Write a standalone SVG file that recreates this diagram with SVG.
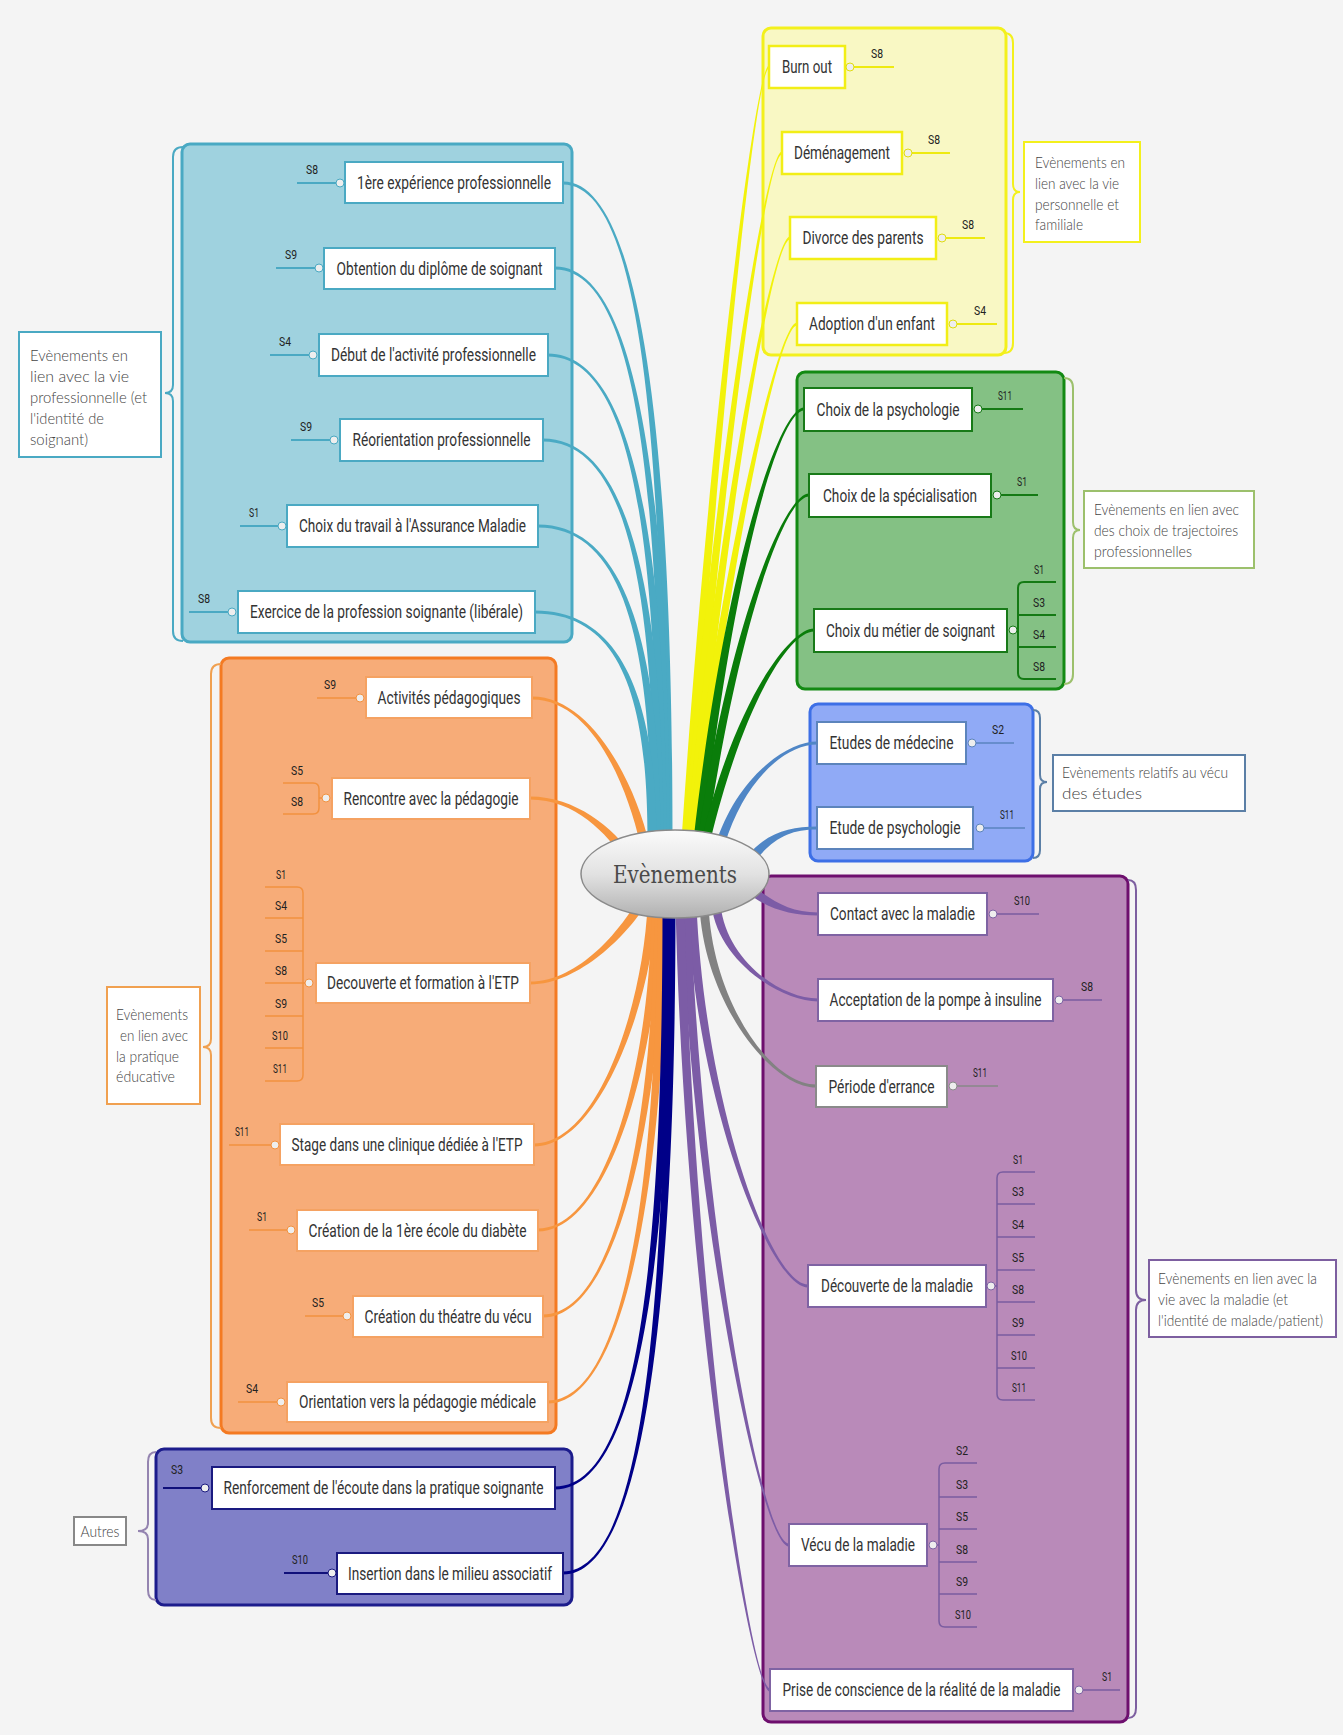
<svg xmlns="http://www.w3.org/2000/svg" width="1343" height="1735" viewBox="0 0 1343 1735">
<defs>
<linearGradient id="eg" x1="0" y1="0" x2="0" y2="1">
<stop offset="0" stop-color="#fbfbfb"/><stop offset="0.5" stop-color="#e2e2e2"/><stop offset="1" stop-color="#b0b0b0"/>
</linearGradient>
<style>
.nt{font-family:Roboto,"Liberation Sans",sans-serif;font-size:18px;fill:#333;text-anchor:middle}
.st{font-family:Roboto,"Liberation Sans",sans-serif;font-size:13px;fill:#222;text-anchor:middle}
.lt{font-family:Lato,"Open Sans","Liberation Sans",sans-serif;font-size:15px;font-weight:300;fill:#444}
.node{fill:#fff;stroke-width:2}
.nb{stroke:#4aa9c3}.ny{stroke:#f2ee16;stroke-width:2.5}.ng{stroke:#187a18}.ne{stroke:#5c84bc}.np{stroke:#7f63a3}.ngr{stroke:#8a8a8a}.no{stroke:#f5a262}.nn{stroke:#1a1a80}
.sl{fill:none;stroke-width:2}
.lb{stroke:#4aa9c3}.ly{stroke:#eeea10}.lg{stroke:#147a14}.le{stroke:#5a84c0;stroke-width:1.5}.lp{stroke:#7a5ca0;stroke-width:1.5}.lgr{stroke:#888;stroke-width:1.5}.lo{stroke:#f2913f;stroke-width:1.5}.ln{stroke:#10107a}
.dot{fill:#eeeeee;stroke-width:1}
.brace{fill:none;stroke-width:2}
.lbox{fill:#fff;stroke-width:2}
</style>
</defs>
<rect width="1343" height="1735" fill="#f4f4f4"/>

<g id="group-boxes">
<rect x="182" y="144" width="390" height="498" rx="8" fill="#9fd2df" stroke="#49a9c3" stroke-width="3"/>
<rect x="763" y="28" width="243" height="327" rx="8" fill="#f9f8c4" stroke="#f3f01c" stroke-width="3"/>
<rect x="797" y="372" width="267" height="317" rx="8" fill="#84c184" stroke="#138a13" stroke-width="3"/>
<rect x="810" y="704" width="223" height="157" rx="8" fill="#90aaf6" stroke="#3d6fe6" stroke-width="3"/>
<rect x="763" y="876" width="365" height="846" rx="8" fill="#b98ab9" stroke="#6e0f6e" stroke-width="3"/>
<rect x="221" y="658" width="335" height="775" rx="8" fill="#f7ac78" stroke="#f47a22" stroke-width="3"/>
<rect x="156" y="1449" width="416" height="156" rx="8" fill="#8080c8" stroke="#1c1c8c" stroke-width="3"/>
</g>

<g id="braces">
<path class="brace" stroke="#4aa9c3" d="M183,147 Q173,147 173,157 L173,385 Q173,393 165,393 Q173,393 173,401 L173,631 Q173,641 183,641"/>
<path class="brace" stroke="#f3f01c" stroke-width="2.5" d="M1004,33 Q1013,33 1013,43 L1013,184 Q1013,192 1020,192 Q1013,192 1013,200 L1013,343 Q1013,353 1004,353"/>
<path class="brace" stroke="#9cc06c" d="M1064,378 Q1073,378 1073,388 L1073,522 Q1073,530 1080,530 Q1073,530 1073,538 L1073,674 Q1073,684 1064,684"/>
<path class="brace" stroke="#5b7fa6" stroke-width="1.5" d="M1033,710 Q1040,710 1040,718 L1040,775 Q1040,782 1047,782 Q1040,782 1040,789 L1040,850 Q1040,858 1033,858"/>
<path class="brace" stroke="#7d5fa0" d="M1128,880 Q1136,880 1136,890 L1136,1290 Q1136,1300 1146,1300 Q1136,1300 1136,1310 L1136,1708 Q1136,1718 1128,1718"/>
<path class="brace" stroke="#f0a050" d="M221,664 Q211,664 211,674 L211,1039 Q211,1047 203,1047 Q211,1047 211,1055 L211,1418 Q211,1428 221,1428"/>
<path class="brace" stroke="#9484b0" d="M156,1452 Q148,1452 148,1462 L148,1523 Q148,1531 138,1531 Q148,1531 148,1539 L148,1590 Q148,1600 156,1600"/>
</g>

<g id="labels">
<g id="lab-pro">
<rect class="lbox" stroke="#4aa9c3" x="19" y="332" width="142" height="125"/>
<text class="lt" x="30" y="361" textLength="98" lengthAdjust="spacingAndGlyphs">Evènements en</text>
<text class="lt" x="30" y="382" textLength="99" lengthAdjust="spacingAndGlyphs">lien avec la vie</text>
<text class="lt" x="30" y="403" textLength="117" lengthAdjust="spacingAndGlyphs">professionnelle (et</text>
<text class="lt" x="30" y="424" textLength="74" lengthAdjust="spacingAndGlyphs">l'identité de</text>
<text class="lt" x="30" y="445" textLength="58" lengthAdjust="spacingAndGlyphs">soignant)</text>
</g>
<g id="lab-perso">
<rect class="lbox" stroke="#f3f01c" x="1024" y="142" width="116" height="100"/>
<text class="lt" x="1035" y="168" textLength="90" lengthAdjust="spacingAndGlyphs">Evènements en</text>
<text class="lt" x="1035" y="189" textLength="84" lengthAdjust="spacingAndGlyphs">lien avec la vie</text>
<text class="lt" x="1035" y="210" textLength="84" lengthAdjust="spacingAndGlyphs">personnelle et</text>
<text class="lt" x="1035" y="230" textLength="48" lengthAdjust="spacingAndGlyphs">familiale</text>
</g>
<g id="lab-traj">
<rect class="lbox" stroke="#9cc06c" x="1084" y="491" width="170" height="77"/>
<text class="lt" x="1094" y="515" textLength="145" lengthAdjust="spacingAndGlyphs">Evènements en lien avec</text>
<text class="lt" x="1094" y="536" textLength="144" lengthAdjust="spacingAndGlyphs">des choix de trajectoires</text>
<text class="lt" x="1094" y="557" textLength="98" lengthAdjust="spacingAndGlyphs">professionnelles</text>
</g>
<g id="lab-etudes">
<rect class="lbox" stroke="#5b7fa6" stroke-width="1.5" x="1053" y="755" width="192" height="56"/>
<text class="lt" x="1062" y="778" textLength="166" lengthAdjust="spacingAndGlyphs">Evènements relatifs au vécu</text>
<text class="lt" x="1062" y="799" textLength="80" lengthAdjust="spacingAndGlyphs">des études</text>
</g>
<g id="lab-maladie">
<rect class="lbox" stroke="#7d5fa0" x="1149" y="1260" width="187" height="77"/>
<text class="lt" x="1158" y="1284" textLength="159" lengthAdjust="spacingAndGlyphs">Evènements en lien avec la</text>
<text class="lt" x="1158" y="1305" textLength="130" lengthAdjust="spacingAndGlyphs">vie avec la maladie (et</text>
<text class="lt" x="1158" y="1326" textLength="165" lengthAdjust="spacingAndGlyphs">l'identité de malade/patient)</text>
</g>
<g id="lab-educ">
<rect class="lbox" stroke="#f0a050" x="107" y="987" width="93" height="117"/>
<text class="lt" x="116" y="1020" textLength="72" lengthAdjust="spacingAndGlyphs">Evènements</text>
<text class="lt" x="120" y="1041" textLength="68" lengthAdjust="spacingAndGlyphs">en lien avec</text>
<text class="lt" x="116" y="1062" textLength="63" lengthAdjust="spacingAndGlyphs">la pratique</text>
<text class="lt" x="116" y="1082" textLength="59" lengthAdjust="spacingAndGlyphs">éducative</text>
</g>
<g id="lab-autres">
<rect class="lbox" stroke="#888" stroke-width="1.5" x="74" y="1517" width="52" height="28"/>
<text class="lt" x="100" y="1537" font-size="16" text-anchor="middle" textLength="39" lengthAdjust="spacingAndGlyphs">Autres</text>
</g>
</g>

<g id="connectors">
<g fill="#4aaac4">
<path d="M563,181.5 C642,181.5 672.5,446 672.5,840 L663.5,840 C663.5,446 642,184.5 563,184.5 Z"/>
<path d="M555,266.5 C638,266.5 669.5,497 669.5,840 L660.5,840 C660.5,497 638,269.5 555,269.5 Z"/>
<path d="M548,353.5 C634,353.5 666.5,549 666.5,840 L657.5,840 C657.5,549 634,356.5 548,356.5 Z"/>
<path d="M543,438.5 C630,438.5 663.5,600 663.5,840 L654.5,840 C654.5,600 630,441.5 543,441.5 Z"/>
<path d="M538,524.5 C627,524.5 660.5,652 660.5,840 L651.5,840 C651.5,652 627,527.5 538,527.5 Z"/>
<path d="M535,610.5 C623,610.5 656.5,703 656.5,840 L647.5,840 C647.5,703 623,613.5 535,613.5 Z"/>
</g>
<g fill="#f2f20a">
<path d="M769,65.5 C755,65.5 707.5,450 681.5,840 L690.5,840 C716.5,450 755,68.5 769,68.5 Z"/>
<path d="M782,151.5 C765,151.5 713.5,480 683.5,840 L692.5,840 C722.5,480 765,154.5 782,154.5 Z"/>
<path d="M790,236.5 C772,236.5 717.5,520 685.5,840 L694.5,840 C726.5,520 772,239.5 790,239.5 Z"/>
<path d="M797,322.5 C778,322.5 721.5,560 687.5,840 L696.5,840 C730.5,560 778,325.5 797,325.5 Z"/>
</g>
<g fill="#0a7d0a">
<path d="M804,407.5 C780,407.5 725.5,560 693.5,840 L702.5,840 C734.5,560 780,410.5 804,410.5 Z"/>
<path d="M809,493.5 C785,493.5 730.5,620 697.5,840 L706.5,840 C739.5,620 785,496.5 809,496.5 Z"/>
<path d="M814,628.5 C790,628.5 735.5,700 701.5,840 L710.5,840 C744.5,700 790,631.5 814,631.5 Z"/>
</g>
<g fill="#4f86c6">
<path d="M817,741.5 C785,741.5 735.5,780 715.5,845 L724.5,845 C744.5,780 785,744.5 817,744.5 Z"/>
<path d="M817,826.5 C790,826.5 766.5,832.2 746.5,857.2 L753.5,862.8 C773.5,837.8 790,829.5 817,829.5 Z"/>
</g>
<g fill="#7c5ca6">
<path d="M818,915.5 C790,915.5 767.3,908.6 745.3,891.6 L750.7,884.4 C772.7,901.4 790,912.5 818,912.5 Z"/>
<path d="M818,1001.5 C780,1001.5 717.5,960 711.5,905 L720.5,905 C726.5,960 780,998.5 818,998.5 Z"/>
<path d="M808,1287.5 C770,1287.5 695.5,1100 687.5,905 L696.5,905 C704.5,1100 770,1284.5 808,1284.5 Z"/>
<path d="M789,1546.5 C760,1546.5 690.5,1200 681.5,905 L690.5,905 C699.5,1200 760,1543.5 789,1543.5 Z"/>
<path d="M770,1691.5 C750,1691.5 684.5,1300 675.5,905 L684.5,905 C693.5,1300 750,1688.5 770,1688.5 Z"/>
</g>
<path fill="#828282" d="M816,1087.5 C770,1087.5 703.5,1000 699.5,905 L708.5,905 C712.5,1000 770,1084.5 816,1084.5 Z"/>
<g fill="#f7963f">
<path d="M532,696.5 C590,696.5 634.5,780 649.5,845 L640.5,845 C625.5,780 590,699.5 532,699.5 Z"/>
<path d="M530,796.5 C575,796.5 613.7,827.5 633.7,857.5 L626.3,862.5 C606.3,832.5 575,799.5 530,799.5 Z"/>
<path d="M530,984.5 C580,984.5 628.9,932.3 643.9,907.3 L636.1,902.7 C621.1,927.7 580,981.5 530,981.5 Z"/>
<path d="M534,1146.5 C600,1146.5 652.5,1000 656.5,905 L647.5,905 C643.5,1000 600,1143.5 534,1143.5 Z"/>
<path d="M538,1231.5 C610,1231.5 660.5,1050 660.5,905 L651.5,905 C651.5,1050 610,1228.5 538,1228.5 Z"/>
<path d="M543,1317.5 C620,1317.5 663.5,1100 663.5,905 L654.5,905 C654.5,1100 620,1314.5 543,1314.5 Z"/>
<path d="M548,1403.5 C630,1403.5 666.5,1150 666.5,905 L657.5,905 C657.5,1150 630,1400.5 548,1400.5 Z"/>
</g>
<g fill="#000088">
<path d="M555,1489.5 C640,1489.5 671.5,1250 671.5,905 L662.5,905 C662.5,1250 640,1486.5 555,1486.5 Z"/>
<path d="M563,1574.5 C645,1574.5 675.5,1300 675.5,905 L666.5,905 C666.5,1300 645,1571.5 563,1571.5 Z"/>
</g>
</g>

<g id="sub-connectors">
<g class="sl lb"><path d="M297,183 H336 M276,268 H315 M270,355 H309 M291,440 H330 M240,526 H278 M189,612 H228"/></g>
<g class="sl ly"><path d="M854,67 H894 M912,153 H950 M946,238 H985 M957,324 H997"/></g>
<g class="sl lg"><path d="M982,409 H1023 M1001,495 H1038 M1017,630 H1018 M1056,582 H1024 Q1018,582 1018,588 V673 Q1018,679 1024,679 H1056 M1018,615 H1056 M1018,647 H1056"/></g>
<g class="sl le"><path d="M976,743 H1014 M984,828 H1025"/></g>
<g class="sl lp"><path d="M997,914 H1039 M1063,1000 H1102 M1083,1690 H1120 M995,1286 H997 M1035,1172 H1003 Q997,1172 997,1178 V1394 Q997,1400 1003,1400 H1035 M997,1204 H1035 M997,1237 H1035 M997,1270 H1035 M997,1302 H1035 M997,1335 H1035 M997,1368 H1035 M937,1545 H939 M977,1463 H945 Q939,1463 939,1469 V1621 Q939,1627 945,1627 H977 M939,1497 H977 M939,1529 H977 M939,1562 H977 M939,1594 H977"/></g>
<g class="sl lgr"><path d="M957,1086 H998"/></g>
<g class="sl lo"><path d="M317,698 H356 M229,1145 H271 M249,1230 H287 M305,1316 H343 M238,1402 H277 M319,798 H322 M283,783 H313 Q319,783 319,789 V808 Q319,814 313,814 H283 M303,983 H305 M265,887 H297 Q303,887 303,893 V1075 Q303,1081 297,1081 H265 M265,918 H303 M265,951 H303 M265,983 H303 M265,1016 H303 M265,1048 H303"/></g>
<g class="sl ln"><path d="M163,1488 H201 M284,1573 H328"/></g>
</g>

<g id="node-b1"><rect class="node nb" x="345" y="162" width="218" height="41"/><text class="nt" x="454" y="189" textLength="194" lengthAdjust="spacingAndGlyphs">1ère expérience professionnelle</text><circle class="dot" stroke="#4aa9c3" cx="340" cy="183" r="4"/><text class="st" x="312" y="174" textLength="12" lengthAdjust="spacingAndGlyphs">S8</text></g>
<g id="node-b2"><rect class="node nb" x="324" y="248" width="231" height="41"/><text class="nt" x="439.5" y="274.5" textLength="206" lengthAdjust="spacingAndGlyphs">Obtention du diplôme de soignant</text><circle class="dot" stroke="#4aa9c3" cx="319" cy="268" r="4"/><text class="st" x="291" y="259" textLength="12" lengthAdjust="spacingAndGlyphs">S9</text></g>
<g id="node-b3"><rect class="node nb" x="319" y="334" width="229" height="42"/><text class="nt" x="433.5" y="361" textLength="205" lengthAdjust="spacingAndGlyphs">Début de l'activité professionnelle</text><circle class="dot" stroke="#4aa9c3" cx="313" cy="355" r="4"/><text class="st" x="285" y="346" textLength="12" lengthAdjust="spacingAndGlyphs">S4</text></g>
<g id="node-b4"><rect class="node nb" x="340" y="419" width="203" height="42"/><text class="nt" x="441.5" y="446" textLength="178" lengthAdjust="spacingAndGlyphs">Réorientation professionnelle</text><circle class="dot" stroke="#4aa9c3" cx="334" cy="440" r="4"/><text class="st" x="306" y="431" textLength="12" lengthAdjust="spacingAndGlyphs">S9</text></g>
<g id="node-b5"><rect class="node nb" x="287" y="505" width="251" height="42"/><text class="nt" x="412.5" y="532" textLength="227" lengthAdjust="spacingAndGlyphs">Choix du travail à l'Assurance Maladie</text><circle class="dot" stroke="#4aa9c3" cx="282" cy="526" r="4"/><text class="st" x="254" y="517" textLength="10" lengthAdjust="spacingAndGlyphs">S1</text></g>
<g id="node-b6"><rect class="node nb" x="238" y="591" width="297" height="42"/><text class="nt" x="386.5" y="618" textLength="273" lengthAdjust="spacingAndGlyphs">Exercice de la profession soignante (libérale)</text><circle class="dot" stroke="#4aa9c3" cx="232" cy="612" r="4"/><text class="st" x="204" y="603" textLength="12" lengthAdjust="spacingAndGlyphs">S8</text></g>

<g id="node-y1"><rect class="node ny" x="769" y="46" width="76" height="42"/><text class="nt" x="807" y="73" textLength="50" lengthAdjust="spacingAndGlyphs">Burn out</text><circle class="dot" stroke="#e0dc10" cx="850" cy="67" r="4"/><text class="st" x="877" y="58" textLength="12" lengthAdjust="spacingAndGlyphs">S8</text></g>
<g id="node-y2"><rect class="node ny" x="782" y="132" width="120" height="42"/><text class="nt" x="842" y="159" textLength="96" lengthAdjust="spacingAndGlyphs">Déménagement</text><circle class="dot" stroke="#e0dc10" cx="908" cy="153" r="4"/><text class="st" x="934" y="144" textLength="12" lengthAdjust="spacingAndGlyphs">S8</text></g>
<g id="node-y3"><rect class="node ny" x="790" y="217" width="146" height="42"/><text class="nt" x="863" y="244" textLength="121" lengthAdjust="spacingAndGlyphs">Divorce des parents</text><circle class="dot" stroke="#e0dc10" cx="942" cy="238" r="4"/><text class="st" x="968" y="229" textLength="12" lengthAdjust="spacingAndGlyphs">S8</text></g>
<g id="node-y4"><rect class="node ny" x="797" y="303" width="150" height="42"/><text class="nt" x="872" y="330" textLength="126" lengthAdjust="spacingAndGlyphs">Adoption d'un enfant</text><circle class="dot" stroke="#e0dc10" cx="953" cy="324" r="4"/><text class="st" x="980" y="315" textLength="12" lengthAdjust="spacingAndGlyphs">S4</text></g>

<g id="node-g1"><rect class="node ng" x="804" y="388" width="168" height="43"/><text class="nt" x="888" y="415.5" textLength="143" lengthAdjust="spacingAndGlyphs">Choix de la psychologie</text><circle class="dot" stroke="#187a18" cx="978" cy="409" r="4"/><text class="st" x="1005" y="400" textLength="14" lengthAdjust="spacingAndGlyphs">S11</text></g>
<g id="node-g2"><rect class="node ng" x="809" y="474" width="182" height="43"/><text class="nt" x="900" y="501.5" textLength="154" lengthAdjust="spacingAndGlyphs">Choix de la spécialisation</text><circle class="dot" stroke="#187a18" cx="997" cy="495" r="4"/><text class="st" x="1022" y="486" textLength="10" lengthAdjust="spacingAndGlyphs">S1</text></g>
<g id="node-g3"><rect class="node ng" x="814" y="609" width="193" height="43"/><text class="nt" x="910.5" y="636.5" textLength="169" lengthAdjust="spacingAndGlyphs">Choix du métier de soignant</text><circle class="dot" stroke="#187a18" cx="1013" cy="630" r="4"/>
<text class="st" x="1039" y="574" textLength="10" lengthAdjust="spacingAndGlyphs">S1</text><text class="st" x="1039" y="607" textLength="12" lengthAdjust="spacingAndGlyphs">S3</text><text class="st" x="1039" y="639" textLength="12" lengthAdjust="spacingAndGlyphs">S4</text><text class="st" x="1039" y="671" textLength="12" lengthAdjust="spacingAndGlyphs">S8</text></g>

<g id="node-e1"><rect class="node ne" x="817" y="722" width="149" height="42"/><text class="nt" x="891.5" y="749" textLength="124" lengthAdjust="spacingAndGlyphs">Etudes de médecine</text><circle class="dot" stroke="#5c84bc" cx="972" cy="743" r="4"/><text class="st" x="998" y="734" textLength="12" lengthAdjust="spacingAndGlyphs">S2</text></g>
<g id="node-e2"><rect class="node ne" x="817" y="807" width="156" height="42"/><text class="nt" x="895" y="834" textLength="131" lengthAdjust="spacingAndGlyphs">Etude de psychologie</text><circle class="dot" stroke="#5c84bc" cx="980" cy="828" r="4"/><text class="st" x="1007" y="819" textLength="14" lengthAdjust="spacingAndGlyphs">S11</text></g>

<g id="node-p1"><rect class="node np" x="818" y="893" width="169" height="42"/><text class="nt" x="902.5" y="920" textLength="145" lengthAdjust="spacingAndGlyphs">Contact avec la maladie</text><circle class="dot" stroke="#7f63a3" cx="993" cy="914" r="4"/><text class="st" x="1022" y="905" textLength="16" lengthAdjust="spacingAndGlyphs">S10</text></g>
<g id="node-p2"><rect class="node np" x="818" y="979" width="235" height="42"/><text class="nt" x="935.5" y="1006" textLength="212" lengthAdjust="spacingAndGlyphs">Acceptation de la pompe à insuline</text><circle class="dot" stroke="#7f63a3" cx="1059" cy="1000" r="4"/><text class="st" x="1087" y="991" textLength="12" lengthAdjust="spacingAndGlyphs">S8</text></g>
<g id="node-p3"><rect class="node ngr" x="816" y="1066" width="131" height="41"/><text class="nt" x="881.5" y="1092.5" textLength="106" lengthAdjust="spacingAndGlyphs">Période d'errance</text><circle class="dot" stroke="#8a8a8a" cx="953" cy="1086" r="4"/><text class="st" x="980" y="1077" textLength="14" lengthAdjust="spacingAndGlyphs">S11</text></g>
<g id="node-p4"><rect class="node np" x="808" y="1265" width="178" height="42"/><text class="nt" x="897" y="1292" textLength="152" lengthAdjust="spacingAndGlyphs">Découverte de la maladie</text><circle class="dot" stroke="#7f63a3" cx="991" cy="1286" r="4"/>
<text class="st" x="1018" y="1164" textLength="10" lengthAdjust="spacingAndGlyphs">S1</text><text class="st" x="1018" y="1196" textLength="12" lengthAdjust="spacingAndGlyphs">S3</text><text class="st" x="1018" y="1229" textLength="12" lengthAdjust="spacingAndGlyphs">S4</text><text class="st" x="1018" y="1262" textLength="12" lengthAdjust="spacingAndGlyphs">S5</text><text class="st" x="1018" y="1294" textLength="12" lengthAdjust="spacingAndGlyphs">S8</text><text class="st" x="1018" y="1327" textLength="12" lengthAdjust="spacingAndGlyphs">S9</text><text class="st" x="1019" y="1360" textLength="16" lengthAdjust="spacingAndGlyphs">S10</text><text class="st" x="1019" y="1392" textLength="14" lengthAdjust="spacingAndGlyphs">S11</text></g>
<g id="node-p5"><rect class="node np" x="789" y="1524" width="138" height="42"/><text class="nt" x="858" y="1551" textLength="114" lengthAdjust="spacingAndGlyphs">Vécu de la maladie</text><circle class="dot" stroke="#7f63a3" cx="933" cy="1545" r="4"/>
<text class="st" x="962" y="1455" textLength="12" lengthAdjust="spacingAndGlyphs">S2</text><text class="st" x="962" y="1489" textLength="12" lengthAdjust="spacingAndGlyphs">S3</text><text class="st" x="962" y="1521" textLength="12" lengthAdjust="spacingAndGlyphs">S5</text><text class="st" x="962" y="1554" textLength="12" lengthAdjust="spacingAndGlyphs">S8</text><text class="st" x="962" y="1586" textLength="12" lengthAdjust="spacingAndGlyphs">S9</text><text class="st" x="963" y="1619" textLength="16" lengthAdjust="spacingAndGlyphs">S10</text></g>
<g id="node-p6"><rect class="node np" x="770" y="1669" width="303" height="42"/><text class="nt" x="921.5" y="1696" textLength="278" lengthAdjust="spacingAndGlyphs">Prise de conscience de la réalité de la maladie</text><circle class="dot" stroke="#7f63a3" cx="1079" cy="1690" r="4"/><text class="st" x="1107" y="1681" textLength="10" lengthAdjust="spacingAndGlyphs">S1</text></g>

<g id="node-o1"><rect class="node no" x="366" y="677" width="166" height="41"/><text class="nt" x="449" y="703.5" textLength="143" lengthAdjust="spacingAndGlyphs">Activités pédagogiques</text><circle class="dot" stroke="#f2913f" cx="360" cy="698" r="4"/><text class="st" x="330" y="689" textLength="12" lengthAdjust="spacingAndGlyphs">S9</text></g>
<g id="node-o2"><rect class="node no" x="332" y="778" width="198" height="41"/><text class="nt" x="431" y="804.5" textLength="175" lengthAdjust="spacingAndGlyphs">Rencontre avec la pédagogie</text><circle class="dot" stroke="#f2913f" cx="326" cy="798" r="4"/><text class="st" x="297" y="775" textLength="12" lengthAdjust="spacingAndGlyphs">S5</text><text class="st" x="297" y="806" textLength="12" lengthAdjust="spacingAndGlyphs">S8</text></g>
<g id="node-o3"><rect class="node no" x="316" y="963" width="214" height="40"/><text class="nt" x="423" y="989" textLength="192" lengthAdjust="spacingAndGlyphs">Decouverte et formation à l'ETP</text><circle class="dot" stroke="#f2913f" cx="309" cy="983" r="4"/>
<text class="st" x="281" y="879" textLength="10" lengthAdjust="spacingAndGlyphs">S1</text><text class="st" x="281" y="910" textLength="12" lengthAdjust="spacingAndGlyphs">S4</text><text class="st" x="281" y="943" textLength="12" lengthAdjust="spacingAndGlyphs">S5</text><text class="st" x="281" y="975" textLength="12" lengthAdjust="spacingAndGlyphs">S8</text><text class="st" x="281" y="1008" textLength="12" lengthAdjust="spacingAndGlyphs">S9</text><text class="st" x="280" y="1040" textLength="16" lengthAdjust="spacingAndGlyphs">S10</text><text class="st" x="280" y="1073" textLength="14" lengthAdjust="spacingAndGlyphs">S11</text></g>
<g id="node-o4"><rect class="node no" x="280" y="1124" width="254" height="41"/><text class="nt" x="407" y="1150.5" textLength="231" lengthAdjust="spacingAndGlyphs">Stage dans une clinique dédiée à l'ETP</text><circle class="dot" stroke="#f2913f" cx="275" cy="1145" r="4"/><text class="st" x="242" y="1136" textLength="14" lengthAdjust="spacingAndGlyphs">S11</text></g>
<g id="node-o5"><rect class="node no" x="297" y="1210" width="241" height="41"/><text class="nt" x="417.5" y="1236.5" textLength="218" lengthAdjust="spacingAndGlyphs">Création de la 1ère école du diabète</text><circle class="dot" stroke="#f2913f" cx="291" cy="1230" r="4"/><text class="st" x="262" y="1221" textLength="10" lengthAdjust="spacingAndGlyphs">S1</text></g>
<g id="node-o6"><rect class="node no" x="353" y="1296" width="190" height="41"/><text class="nt" x="448" y="1322.5" textLength="167" lengthAdjust="spacingAndGlyphs">Création du théatre du vécu</text><circle class="dot" stroke="#f2913f" cx="347" cy="1316" r="4"/><text class="st" x="318" y="1307" textLength="12" lengthAdjust="spacingAndGlyphs">S5</text></g>
<g id="node-o7"><rect class="node no" x="287" y="1382" width="261" height="40"/><text class="nt" x="417.5" y="1408" textLength="237" lengthAdjust="spacingAndGlyphs">Orientation vers la pédagogie médicale</text><circle class="dot" stroke="#f2913f" cx="281" cy="1402" r="4"/><text class="st" x="252" y="1393" textLength="12" lengthAdjust="spacingAndGlyphs">S4</text></g>

<g id="node-n1"><rect class="node nn" x="212" y="1467" width="343" height="42"/><text class="nt" x="383.5" y="1494" textLength="320" lengthAdjust="spacingAndGlyphs">Renforcement de l'écoute dans la pratique soignante</text><circle class="dot" stroke="#1a1a80" cx="205" cy="1488" r="4"/><text class="st" x="177" y="1474" textLength="12" lengthAdjust="spacingAndGlyphs">S3</text></g>
<g id="node-n2"><rect class="node nn" x="337" y="1553" width="226" height="41"/><text class="nt" x="450" y="1579.5" textLength="204" lengthAdjust="spacingAndGlyphs">Insertion dans le milieu associatif</text><circle class="dot" stroke="#1a1a80" cx="332" cy="1573" r="4"/><text class="st" x="300" y="1564" textLength="16" lengthAdjust="spacingAndGlyphs">S10</text></g>

<g id="node-center">
<ellipse cx="675" cy="874" rx="94" ry="44" fill="url(#eg)" stroke="#8a8a8a" stroke-width="1.5"/>
<text x="675" y="883" font-family="'DejaVu Serif','Liberation Serif',serif" font-size="25" fill="#4a4a4a" text-anchor="middle" textLength="124" lengthAdjust="spacingAndGlyphs">Evènements</text>
</g>
</svg>
